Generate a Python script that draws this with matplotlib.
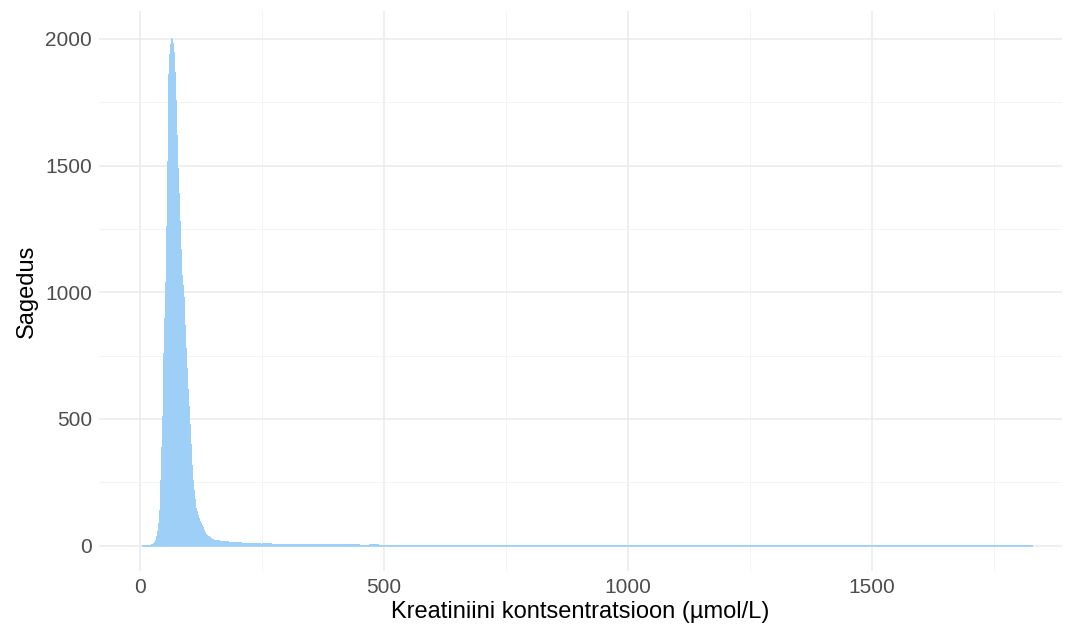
import matplotlib.pyplot as plt
import numpy as np

# kreatiniini jaotus, loetud pildilt
# tuum: 2 ühikused vahemikud 4..250
core_edges = np.arange(4, 252, 2)
core_counts = [
    1, 1, 1, 2, 2, 2, 3, 3, 4, 5,
    7, 10, 15, 24, 38, 58, 90, 142, 260, 390,
    510, 640, 760, 900, 1040, 1260, 1520, 1860, 1940, 1980,
    2005, 2000, 1985, 1950, 1870, 1760, 1620, 1490, 1390, 1280,
    1170, 1070, 1030, 980, 870, 780, 700, 620, 550, 480,
    400, 320, 260, 220, 185, 150, 135, 120, 108, 98,
    90, 82, 75, 68, 60, 54, 48, 44, 40, 37,
    34, 31, 28, 26, 24, 23, 22, 22, 21, 21,
    20, 20, 20, 19, 18, 18, 17, 17, 17, 16,
    16, 16, 15, 15, 15, 15, 14, 14, 14, 13,
    13, 13, 12, 12, 12, 12, 11, 11, 11, 11,
    10, 10, 10, 10, 10, 10, 9, 9, 9, 9,
    9, 9, 8,
]
# saba: 20 ühikused vahemikud 250..1830
tail_edges = np.arange(250, 1850, 20)
tail_counts = [
    9, 8, 8, 7, 7, 6, 6, 5, 5, 5,
    4, 5, 4, 4, 3, 4, 3, 3, 3, 3,
    4, 3, 3, 3, 4, 3, 2, 3, 3, 2,
    3, 2, 3, 2, 2, 3, 2, 2, 2, 3,
    2, 2, 2, 1, 2, 2, 1, 2, 1, 2,
    1, 2, 1, 1, 2, 1, 1, 1, 2, 1,
    1, 1, 1, 1, 1, 1, 1, 1, 1, 1,
    1, 1, 1, 1, 1, 1, 1, 1, 1,
]

x_ticks = [0, 500, 1000, 1500]
y_ticks = [0, 500, 1000, 1500, 2000]

edges = np.concatenate([core_edges[:-1], tail_edges])
counts = np.array(core_counts + tail_counts, dtype=float)

plt.rcParams['font.family'] = ['Liberation Sans', 'DejaVu Sans']

fig = plt.figure(figsize=(10.72, 6.32), dpi=100)
ax = fig.add_axes([0.0924, 0.0965, 0.8983, 0.886])

fill = '#9ecff7'
ax.stairs(counts, edges, fill=True, facecolor=fill,
          edgecolor='none', linewidth=0, zorder=2)
# dünne Grundlinie der leeren Balken wie im Original
ax.plot([edges[0], edges[-1]], [0, 0], color=fill, linewidth=1.2, zorder=2,
        solid_capstyle='butt')

ax.set_xlim(-84, 1889)
ax.set_ylim(-100, 2110)
ax.set_xticks(x_ticks)
ax.set_yticks(y_ticks)
ax.set_xticks([250, 750, 1250, 1750], minor=True)
ax.set_yticks([250, 750, 1250, 1750], minor=True)

ax.grid(which='major', color='#ebebeb', linewidth=1.1, zorder=0)
ax.grid(which='minor', color='#f2f2f2', linewidth=0.6, zorder=0)
ax.set_axisbelow(True)
for s in ax.spines.values():
    s.set_visible(False)
ax.tick_params(which='both', length=0, labelsize=15, labelcolor='#4d4d4d', pad=5)

ax.set_xlabel('Kreatiniini kontsentratsioon (µmol/L)', fontsize=17, labelpad=3)
ax.set_ylabel('Sagedus', fontsize=17, labelpad=5)

fig.savefig('out.png', dpi=100)
